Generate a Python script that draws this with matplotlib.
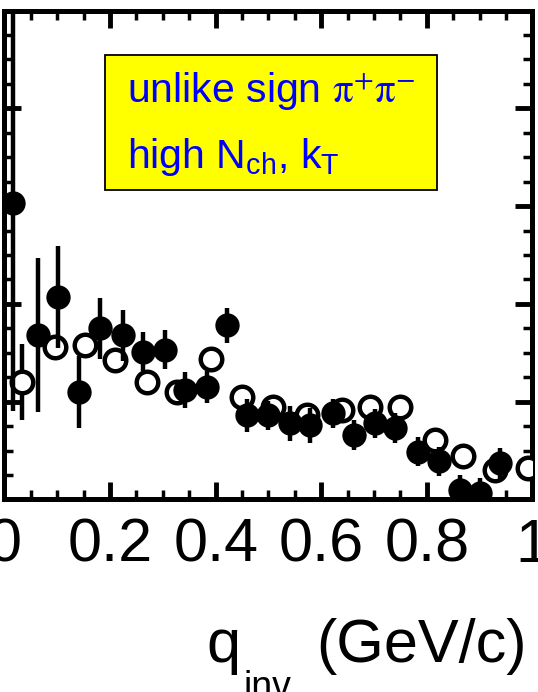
import numpy as np
import matplotlib
matplotlib.use('Agg')
import matplotlib.pyplot as plt
from matplotlib.ticker import MultipleLocator, FixedLocator, FixedFormatter
from matplotlib.patches import Rectangle

plt.rcParams['font.family'] = ['Liberation Sans', 'DejaVu Sans']
plt.rcParams['mathtext.fontset'] = 'custom'
plt.rcParams['mathtext.rm'] = 'Liberation Sans'
plt.rcParams['mathtext.it'] = 'Liberation Sans:italic'

# filled circles (with error bars)
q_filled = [0.017, 0.064, 0.102, 0.141, 0.181, 0.225, 0.263, 0.304, 0.342, 0.383,
            0.421, 0.459, 0.500, 0.541, 0.579, 0.623, 0.661, 0.702, 0.740, 0.784,
            0.822, 0.863, 0.900, 0.938]
c_filled = [3.03, 1.68, 2.07, 1.10, 1.75, 1.68, 1.51, 1.53, 1.12, 1.15,
            1.78, 0.86, 0.86, 0.78, 0.76, 0.88, 0.66, 0.78, 0.73, 0.49,
            0.39, 0.10, 0.07, 0.37]
e_filled = [2.13, 0.79, 0.52, 0.37, 0.31, 0.26, 0.20, 0.20, 0.18, 0.16,
            0.18, 0.17, 0.15, 0.18, 0.18, 0.15, 0.15, 0.15, 0.15, 0.15,
            0.15, 0.15, 0.15, 0.16]

# open circles
q_open = [0.033, 0.096, 0.152, 0.209, 0.269, 0.326, 0.392, 0.449, 0.509, 0.572,
          0.639, 0.692, 0.749, 0.815, 0.869, 0.929, 0.992]
c_open = [1.20, 1.56, 1.58, 1.43, 1.20, 1.10, 1.44, 1.05, 0.95, 0.86,
          0.92, 0.95, 0.95, 0.61, 0.44, 0.30, 0.32]
e_open = [0.39, 0.10, 0.10, 0.10, 0.10, 0.10, 0.10, 0.10, 0.10, 0.10,
          0.10, 0.10, 0.10, 0.10, 0.10, 0.10, 0.10]

xticks = [0, 0.2, 0.4, 0.6, 0.8, 1.0]
xticklabels = ['0', '0.2', '0.4', '0.6', '0.8', '1']

fig = plt.figure(figsize=(5.38, 6.92), dpi=100)
ax = fig.add_axes([0.00836, 0.2782, 0.9814, 0.7066])

ax.errorbar(q_open, c_open, yerr=e_open, fmt='o', ms=15.5, mfc='white', mec='black',
            mew=3.2, ecolor='black', elinewidth=3.2, capsize=0, zorder=3)
ax.errorbar(q_filled, c_filled, yerr=e_filled, fmt='o', ms=16, mfc='black', mec='black',
            mew=1.5, ecolor='black', elinewidth=3.2, capsize=0, zorder=4)

ax.set_xlim(0, 1)
ax.set_ylim(0, 5)
ax.xaxis.set_major_locator(FixedLocator(xticks))
ax.xaxis.set_major_formatter(FixedFormatter(xticklabels))
ax.xaxis.set_minor_locator(MultipleLocator(0.05))
ax.yaxis.set_major_locator(MultipleLocator(1))
ax.yaxis.set_minor_locator(MultipleLocator(0.25))

ax.tick_params(which='both', direction='in', top=True, right=True,
               labelleft=False, labelsize=44, pad=13)
ax.tick_params(which='major', length=12, width=3.5)
ax.tick_params(which='minor', length=6.5, width=2.5)
for s in ax.spines.values():
    s.set_linewidth(3.6)

# label box
ax.add_patch(Rectangle((0.190, 0.632), 0.630, 0.277, transform=ax.transAxes,
                       facecolor='#ffff00', edgecolor='black', lw=1.3, zorder=5))
ax.text(0.232, 0.811, r'unlike sign $\mathrm{\pi}^{+}\mathrm{\pi}^{-}$', transform=ax.transAxes,
        color='#0000ff', fontsize=29.5, math_fontfamily='stix', zorder=6, va='baseline')
ax.text(0.232, 0.678, r'high N$_{\mathrm{ch}}$, k$_{\mathrm{T}}$', transform=ax.transAxes,
        color='#0000ff', fontsize=29.5, zorder=6, va='baseline')

# axis title
fig.text(0.9796, 0.0439, '(GeV/c)', fontsize=44, ha='right', va='baseline')
fig.text(206 / 538, 0.0439, 'q', fontsize=44, ha='left', va='baseline')
fig.text(244 / 538, -0.008, 'inv', fontsize=27, ha='left', va='baseline')

fig.savefig('out.png', dpi=100)
